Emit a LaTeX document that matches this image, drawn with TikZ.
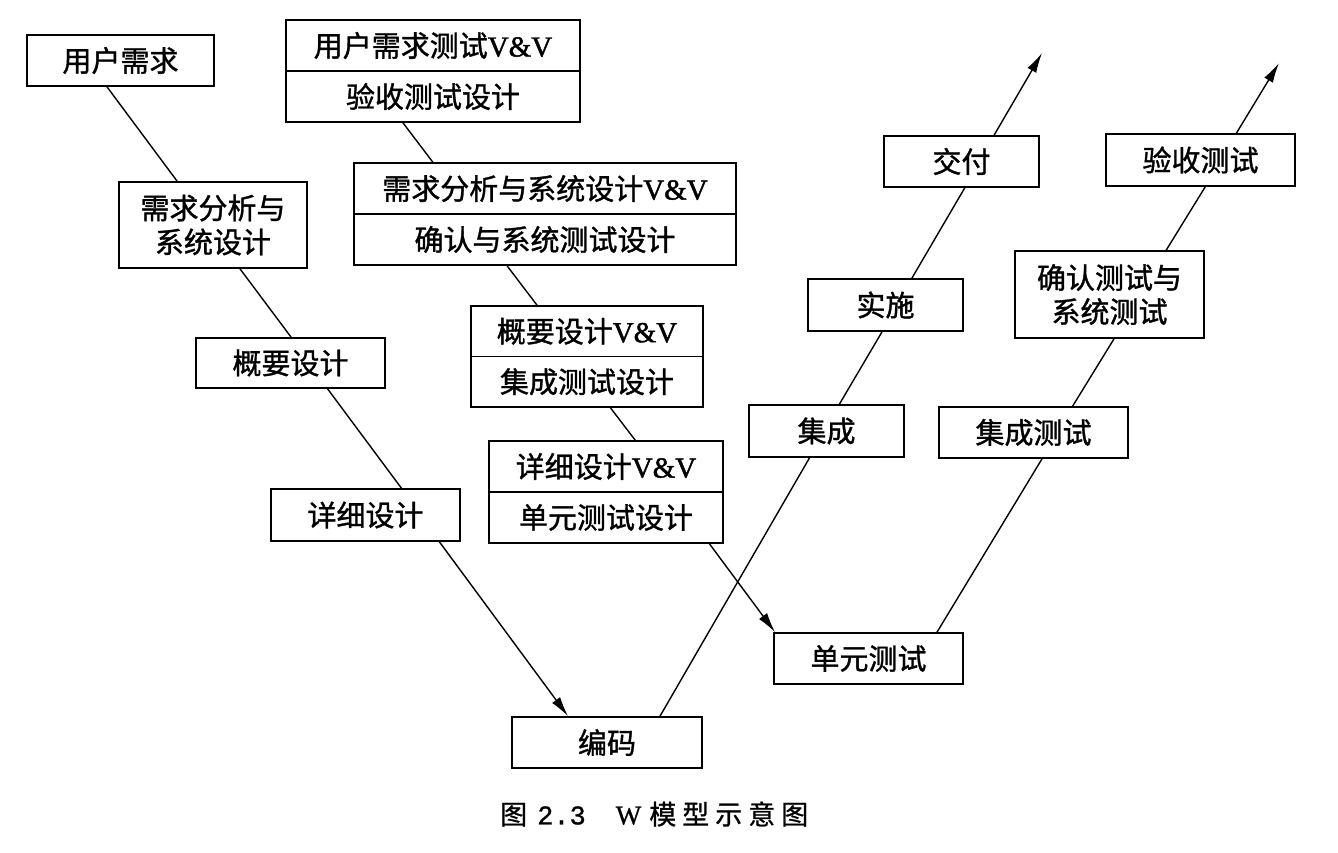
\documentclass[tikz,border=0pt]{standalone}
\usepackage{fontspec}
\newfontfamily\cjk[FakeBold=1.2]{Noto Sans CJK SC}
\newfontfamily\capcjk[FakeBold=0.8]{Noto Sans CJK SC}
\newfontfamily\vv[FakeBold=1.5]{Liberation Serif}
\newfontfamily\capmono[FakeBold=1]{Liberation Mono}
\newfontfamily\capser[FakeBold=0.8]{Liberation Serif}
\usetikzlibrary{arrows.meta}
\begin{document}
\begin{tikzpicture}[x=1pt,y=-1pt,
  box/.style={draw, line width=1.7pt, inner sep=0pt, align=center,
    font=\fontsize{29}{34}\selectfont\cjk},
  conn/.style={line width=1.4pt},
  arr/.style={conn, -{Latex[length=20pt,width=10pt]}},
  captxt/.style={font=\fontsize{27}{30}\selectfont, inner sep=0pt, anchor=west}]
\useasboundingbox (0,0) rectangle (1338,852);
\fill[white] (0,0) rectangle (1338,852);

% left arm
\node[box, minimum width=187pt, minimum height=51pt] (ur) at (120.5,60.5) {用户需求};
\node[box, minimum width=188pt, minimum height=86pt] (ra) at (213,225) {需求分析与\\系统设计};
\node[box, minimum width=189pt, minimum height=50pt] (hd) at (290.5,363) {概要设计};
\node[box, minimum width=189pt, minimum height=52pt] (dd) at (365.5,515) {详细设计};
\node[box, minimum width=190pt, minimum height=51pt] (cd) at (607,742.5) {编码};

% V&V arm
\node[box, minimum width=294pt, minimum height=51pt] (v1t) at (433,45.5) {用户需求测试{\vv V\&V}};
\node[box, minimum width=294pt, minimum height=51pt] (v1b) at (433,96.5) {验收测试设计};
\node[box, minimum width=382pt, minimum height=51pt] (v2t) at (545,188.5) {需求分析与系统设计{\vv V\&V}};
\node[box, minimum width=382pt, minimum height=51pt] (v2b) at (545,239.5) {确认与系统测试设计};
\node[box, minimum width=232pt, minimum height=50.5pt] (v3t) at (587,331.25) {概要设计{\vv V\&V}};
\node[box, minimum width=232pt, minimum height=50.5pt] (v3b) at (587,381.75) {集成测试设计};
\node[box, minimum width=234pt, minimum height=51pt] (v4t) at (606,466.5) {详细设计{\vv V\&V}};
\node[box, minimum width=234pt, minimum height=51pt] (v4b) at (606,517.5) {单元测试设计};

% right arm 1
\node[box, minimum width=155pt, minimum height=52pt] (it) at (826.5,431) {集成};
\node[box, minimum width=155pt, minimum height=52pt] (im) at (885.5,305) {实施};
\node[box, minimum width=155pt, minimum height=51pt] (dl) at (961.5,161.5) {交付};

% right arm 2
\node[box, minimum width=189pt, minimum height=51pt] (ut) at (868.5,658.5) {单元测试};
\node[box, minimum width=189pt, minimum height=51pt] (itt) at (1033.5,432.5) {集成测试};
\node[box, minimum width=189pt, minimum height=87pt] (st) at (1109.5,294.5) {确认测试与\\系统测试};
\node[box, minimum width=189pt, minimum height=52pt] (at) at (1200.5,160) {验收测试};

\coordinate (e1) at (1042,53);
\coordinate (e2) at (1279,63);

% left arm connectors
\draw[conn] ([xshift=-13.5pt]ur.south) -- ([xshift=-35.9pt]ra.north);
\draw[conn] ([xshift=27pt]ra.south) -- ([xshift=0.6pt]hd.north);
\draw[conn] ([xshift=37.1pt]hd.south) -- ([xshift=35.9pt]dd.north);
\draw[arr] ([xshift=73.9pt]dd.south) -- ([xshift=-39pt]cd.north);

% V&V connectors
\draw[conn] ([xshift=-30pt]v1b.south) -- ([xshift=-112.2pt]v2t.north);
\draw[conn] ([xshift=-37.9pt]v2b.south) -- ([xshift=-50pt]v3t.north);
\draw[conn] ([xshift=23.5pt]v3b.south) -- ([xshift=29.2pt]v4t.north);
\draw[arr] ([xshift=103.5pt]v4b.south) -- ([xshift=-93.5pt]ut.north);

% right arm 1 connectors
\draw[conn] ([xshift=53pt]cd.north) -- ([xshift=-17pt]it.south);
\draw[conn] ([xshift=12.9pt]it.north) -- ([xshift=-3.5pt]im.south);
\draw[conn] ([xshift=26.4pt]im.north) -- ([xshift=3.25pt]dl.south);
\draw[arr] ([xshift=32.6pt]dl.north) -- (e1);

% right arm 2 connectors
\draw[conn] ([xshift=68.5pt]ut.north) -- ([xshift=8.5pt]itt.south);
\draw[conn] ([xshift=39.1pt]itt.north) -- ([xshift=4.5pt]st.south);
\draw[conn] ([xshift=56.7pt]st.north) -- ([xshift=4.7pt]at.south);
\draw[arr] ([xshift=35.9pt]at.north) -- (e2);

% caption
\node[captxt] (cap) at (500,814) {{\capcjk 图}\hspace{10pt}{\capmono 2.3}\hspace{30pt}{\capser W}\hspace{8pt}{\capcjk 模\hspace{6pt}型\hspace{6pt}示\hspace{6pt}意\hspace{6pt}图}};
\end{tikzpicture}
\end{document}
